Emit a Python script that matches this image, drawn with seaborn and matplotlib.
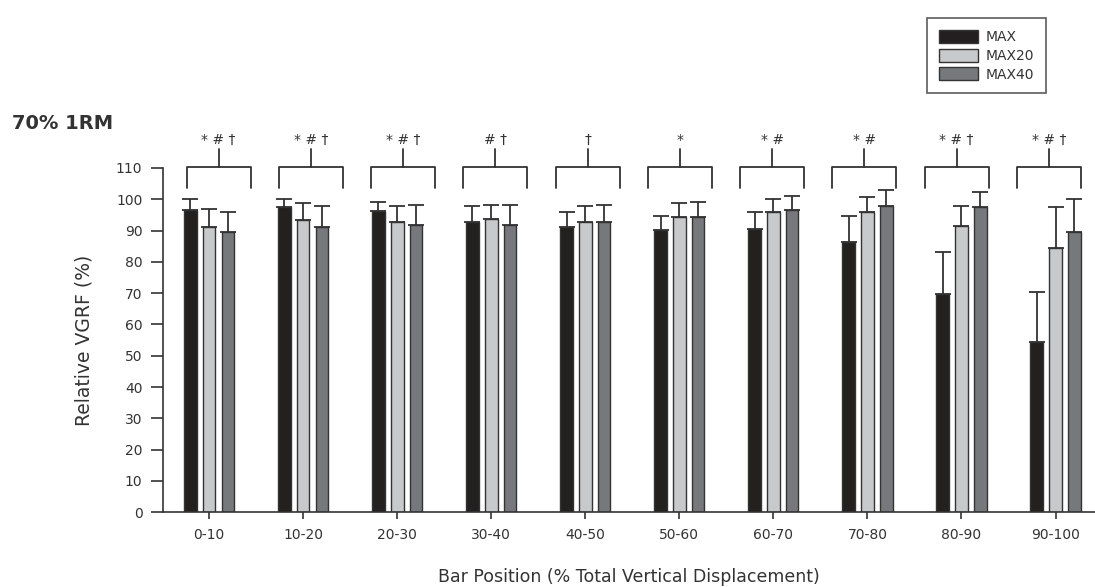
import matplotlib
matplotlib.use("Agg")
import matplotlib.pyplot as plt
from matplotlib.patches import Patch
import numpy as np
import pandas as pd
import seaborn as sns

# Bar position bins (% of total vertical displacement)
positions = ['0-10', '10-20', '20-30', '30-40', '40-50',
             '50-60', '60-70', '70-80', '80-90', '90-100']
conditions = ['MAX', 'MAX20', 'MAX40']

# Relative VGRF means (%)
max_mean = [96.6, 97.6, 96.2, 92.8, 91.0, 90.2, 90.6, 86.5, 69.8, 54.3]
max20_mean = [91.0, 93.4, 92.8, 93.8, 92.8, 94.2, 96.0, 96.0, 91.5, 84.5]
max40_mean = [89.6, 91.0, 91.9, 91.9, 92.8, 94.2, 96.6, 97.9, 97.4, 89.6]

# Upper SD
max_sd = [3.5, 2.5, 3.0, 5.1, 5.0, 4.5, 5.4, 8.2, 13.4, 16.0]
max20_sd = [5.9, 5.4, 5.1, 4.5, 5.1, 4.6, 4.1, 4.6, 6.4, 12.9]
max40_sd = [6.4, 6.9, 6.4, 6.4, 5.5, 5.0, 4.5, 5.0, 5.0, 10.5]

# significance markers above each bin
sig_marks = ['* # †', '* # †', '* # †', '# †', '†',
             '*', '* #', '* #', '* # †', '* # †']

colors = ['#231f20', '#c8c9cb', '#77787b']
ink = '#333333'

df = pd.DataFrame({
    'Bar Position': positions * 3,
    'Condition': np.repeat(conditions, len(positions)),
    'VGRF': max_mean + max20_mean + max40_mean,
    'SD': max_sd + max20_sd + max40_sd,
})

sns.set_style('ticks')
plt.rcParams['font.family'] = ['DejaVu Sans']

fig = plt.figure(figsize=(10.95, 5.87), dpi=100)
ax = fig.add_axes([0.1491, 0.1273, 0.8509, 0.5865])

sns.barplot(data=df, x='Bar Position', y='VGRF', hue='Condition',
            hue_order=conditions, palette=colors, width=0.6, gap=0.33,
            edgecolor=ink, linewidth=1.0, errorbar=None,
            legend=False, ax=ax)

# upper-only error bars, drawn behind the bars
bars = ax.patches[:len(df)]
xs = [b.get_x() + b.get_width() / 2 for b in bars]
tops = [b.get_height() for b in bars]
sds = list(df['SD'])
ax.errorbar(xs, tops, yerr=[np.zeros(len(sds)), sds], fmt='none',
            ecolor=ink, elinewidth=1.3, capsize=5.5, capthick=1.3,
            zorder=0.5)

# significance brackets
for i, mark in enumerate(sig_marks):
    xc = i + 0.1 - 0.019 * i
    x0, x1 = xc - 0.34, xc + 0.34
    ax.plot([x0, x0, x1, x1], [103.5, 110.2, 110.2, 103.5],
            color=ink, lw=1.3, clip_on=False)
    ax.plot([xc, xc], [110.2, 116], color=ink, lw=1.3, clip_on=False)
    ax.text(xc, 119, mark, ha='center', va='center', fontsize=10,
            color=ink, clip_on=False)

ax.set_ylim(0, 110)
ax.set_xlim(-0.488, 9.42)
ax.set_yticks(range(0, 111, 10))
sns.despine(ax=ax)
for s in ['left', 'bottom']:
    ax.spines[s].set_color(ink)
    ax.spines[s].set_linewidth(1.2)
ax.tick_params(axis='y', length=9, width=1.2, color=ink,
               labelsize=10, labelcolor=ink, pad=6)
ax.tick_params(axis='x', length=5, width=1.2, color=ink,
               labelsize=10, labelcolor=ink, pad=6)

ax.set_xlabel('Bar Position (% Total Vertical Displacement)', fontsize=12.5,
              color=ink, labelpad=19)
ax.set_ylabel('Relative VGRF (%)', fontsize=13.5, color=ink, labelpad=16)

fig.text(0.011, 0.79, '70% 1RM', fontsize=14, fontweight='bold',
         color=ink, va='center')

handles = [Patch(facecolor=c, edgecolor=ink, linewidth=1.0) for c in colors]
leg = fig.legend(handles, conditions, loc='upper left',
                 bbox_to_anchor=(0.8466, 0.969), fontsize=10,
                 frameon=True, fancybox=False, edgecolor=ink,
                 handlelength=2.8, handleheight=1.1, labelspacing=0.3,
                 handletextpad=0.6, borderpad=0.85, borderaxespad=0)
leg.get_frame().set_linewidth(1.2)
for t in leg.get_texts():
    t.set_color(ink)

fig.savefig('out.png', dpi=100)
